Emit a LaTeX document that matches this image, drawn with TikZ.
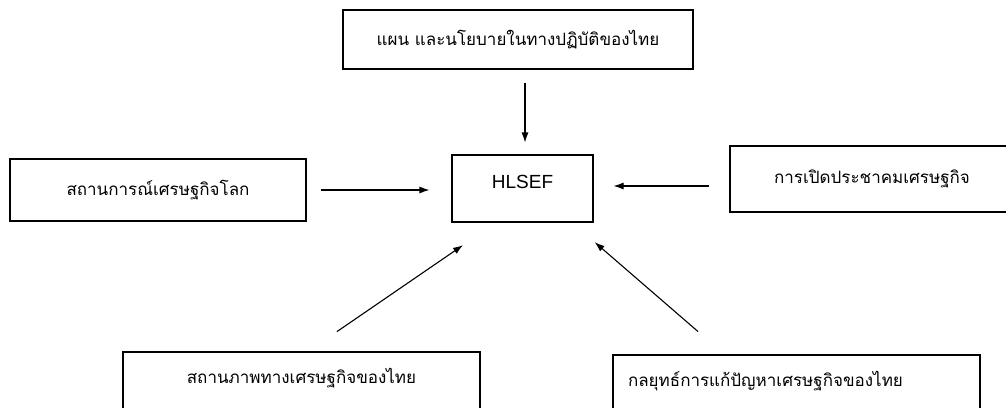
\documentclass[tikz,border=0pt]{standalone}
\usepackage{fontspec}
\setmainfont{Liberation Sans}
\newfontfamily\thaifont[Script=Thai]{Loma}
\usepackage{tikz}
\usetikzlibrary{arrows.meta}

\tikzset{
  box/.style={draw, line width=1.1pt, inner sep=0pt, align=center,
    font=\thaifont\fontsize{17}{20}\selectfont},
  arr/.style={-{Latex[length=10pt,width=7pt]}, line width=1.1pt}
}

\begin{document}
\begin{tikzpicture}[x=1pt,y=-1pt]
    \useasboundingbox (0,0) rectangle (1006,407);
    \clip (0,0) rectangle (1006,407);

    \node[box, minimum width=350pt, minimum height=59pt] (plan) at (518,39.5) {แผน และนโยบายในทางปฏิบัติของไทย};
    \node[box, minimum width=141pt, minimum height=67pt, text depth=14pt,
      font=\fontsize{19}{22}\selectfont] (hl) at (522.5,188.5) {HLSEF};
    \node[box, minimum width=296pt, minimum height=62pt] (world) at (158,190) {สถานการณ์เศรษฐกิจโลก};
    \node[box, minimum width=284pt, minimum height=66pt] (aec) at (872,179) {การเปิดประชาคมเศรษฐกิจ};
    \node[box, minimum width=357pt, minimum height=60pt, text depth=12pt] (thai) at (301.5,382) {สถานภาพทางเศรษฐกิจของไทย};
    \node[box, minimum width=367pt, minimum height=60pt, text depth=12pt,
      text width=337pt, align=left] (strat) at (796.5,385) {กลยุทธ์การแก้ปัญหาเศรษฐกิจของไทย};

    \draw[arr, shorten <=13pt, shorten >=12pt] ([xshift=7pt]plan.south) -- ([xshift=7pt]plan.south |- hl.north);
    \draw[arr, shorten <=14pt, shorten >=22pt] (world.east) -- (world.east -| hl.west);
    \draw[arr, shorten <=20pt, shorten >=20pt] ([yshift=-7pt]aec.west) -- ([yshift=-7pt]aec.west -| hl.east);
    \draw[arr, shorten <=35pt, shorten >=40pt] ([xshift=6.5pt]thai.north) -- ([xshift=-26.5pt]hl.south);
    \draw[arr, shorten <=35pt, shorten >=30pt] ([xshift=-72pt]strat.north) -- ([xshift=49.5pt]hl.south);
\end{tikzpicture}
\end{document}
